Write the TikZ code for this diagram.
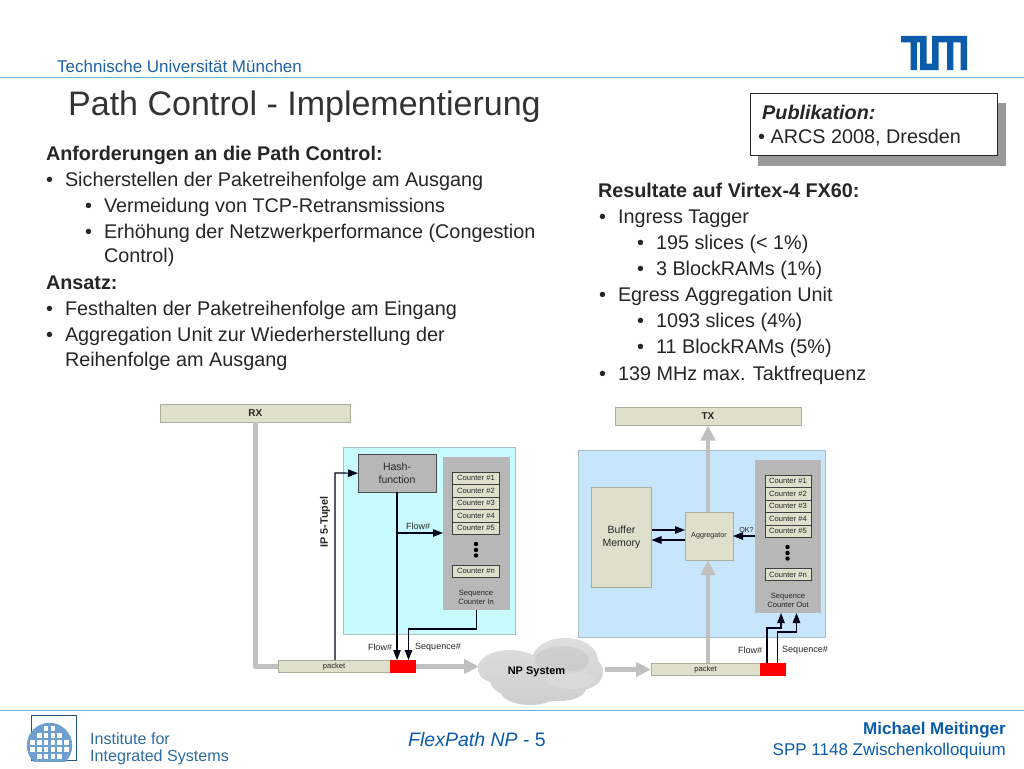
\documentclass[tikz,border=0pt]{standalone}
\usepackage{fontspec}
\setmainfont{Liberation Sans}
\usetikzlibrary{arrows.meta}
\definecolor{tumblue}{HTML}{0B5CAB}
\definecolor{headblue}{HTML}{1F62A8}
\definecolor{rulecol}{HTML}{74B0DE}
\definecolor{txt}{HTML}{262626}
\definecolor{beige}{HTML}{DEE0CC}
\definecolor{beigeline}{HTML}{A9AD9B}
\definecolor{boxgray}{HTML}{B7B7B7}
\definecolor{flowcol}{HTML}{C0C0C0}
\definecolor{cyanbox}{HTML}{C8FBFD}
\definecolor{bluebox}{HTML}{C8E6FB}
\definecolor{boxedge}{HTML}{A8C0C8}
\definecolor{wafer}{HTML}{6F9FCE}
\definecolor{instblue}{HTML}{2F6CA3}
\newcommand{\fs}[1]{\fontsize{#1}{#1}\selectfont}
\tikzset{
  x=1pt,y=-1pt,
  lbl/.style={inner sep=0pt,outer sep=0pt,text=txt},
  bodytext/.style={inner sep=0pt,outer sep=0pt,anchor=base west,text=txt,font=\fs{19.8}},
  headtext/.style={bodytext,font=\fs{19.8}\bfseries},
  beigebox/.style={fill=beige,draw=beigeline,line width=.6pt,inner sep=0pt,outer sep=0pt,anchor=center,text=txt,align=center},
  counter/.style={beigebox,draw=black!75,minimum width=47pt,minimum height=12.5pt,font=\fs{7.6}},
  graybox/.style={fill=boxgray,inner sep=0pt,outer sep=0pt,anchor=center,text=txt,align=center},
  flow/.style={draw=flowcol,line width=4.6pt,-{Triangle[length=15pt,width=14pt,fill=flowcol]}},
  flowline/.style={draw=flowcol,line width=4.6pt,line join=round},
  sig/.style={draw=black!90!blue,line width=1.2pt,-{Triangle[length=10pt,width=7.5pt]}},
  dotmark/.style={circle,fill=black,inner sep=0pt,minimum size=4.4pt},
}
\begin{document}
\begin{tikzpicture}
\useasboundingbox[fill=white] (0,0) rectangle (1024,768);
% header
\node[anchor=base west,inner sep=0,text=headblue,font=\fs{17}] (uni) at (57,72) {Technische Universität München};
\coordinate (ruleAl) at (0,77.5); \coordinate (ruleAr) at (1024,77.5);
\draw[rulecol,line width=1pt] (ruleAl) -- (ruleAr);
\node[anchor=base west,inner sep=0,text=black!80,font=\fs{34}] (title) at (68,115) {Path Control - Implementierung};
% TUM logo
\fill[tumblue] (901,36) rectangle (926.5,42.5) (910.5,36) rectangle (916.8,70)
  (920.2,36) rectangle (926.5,70) (920.2,63.7) rectangle (938.5,70) (932.2,36) rectangle (938.5,70)
  (932.2,36) rectangle (967,42.5) (947,36) rectangle (953.3,70) (960.7,36) rectangle (967,70);
% Publikation
\fill[black!40] (758,103) rectangle (1006,166);
\draw[fill=white,draw=black!85,line width=1pt] (750,93) rectangle (997,155.5);
\node[anchor=base west,inner sep=0,text=txt,font=\fs{19.8}\bfseries\itshape] (pub) at (762,119) {Publikation:};
\node[anchor=base west,inner sep=0,text=txt,font=\fs{19.8}] (arcs) at (758,143) {• ARCS 2008, Dresden};
% left text
\node[headtext] (l1) at (46,160.5) {Anforderungen an die Path Control:};
\node[bodytext] (b2) at (46,186.5) {•}; \node[bodytext] (l2) at (65,186.5) {Sicherstellen der Paketreihenfolge am Ausgang};
\node[bodytext] (b3) at (85,212.5) {•}; \node[bodytext] (l3) at (104,212.5) {Vermeidung von TCP-Retransmissions};
\node[bodytext] (b4) at (85,238.5) {•}; \node[bodytext] (l4) at (104,238.5) {Erhöhung der Netzwerkperformance (Congestion};
\node[bodytext] (l4b) at (104,262.5) {Control)};
\node[headtext] (l5) at (46,289.5) {Ansatz:};
\node[bodytext] (b6) at (46,315.5) {•}; \node[bodytext] (l6) at (65,315.5) {Festhalten der Paketreihenfolge am Eingang};
\node[bodytext] (b7) at (46,341.5) {•}; \node[bodytext] (l7) at (65,341.5) {Aggregation Unit zur Wiederherstellung der};
\node[bodytext] (l7b) at (65,366.5) {Reihenfolge am Ausgang};
% right text
\node[headtext] (r1) at (598,197) {Resultate auf Virtex-4 FX60:};
\node[bodytext] (rb2) at (599,223) {•}; \node[bodytext] (r2) at (618,223) {Ingress Tagger};
\node[bodytext] (rb3) at (637,249) {•}; \node[bodytext] (r3) at (656,249) {195 slices (< 1\%)};
\node[bodytext] (rb4) at (637,275) {•}; \node[bodytext] (r4) at (656,275) {3 BlockRAMs (1\%)};
\node[bodytext] (rb5) at (599,301) {•}; \node[bodytext] (r5) at (618,301) {Egress Aggregation Unit};
\node[bodytext] (rb6) at (637,327) {•}; \node[bodytext] (r6) at (656,327) {1093 slices (4\%)};
\node[bodytext] (rb7) at (637,353) {•}; \node[bodytext] (r7) at (656,353) {11 BlockRAMs (5\%)};
\node[bodytext] (rb8) at (599,380) {•}; \node[bodytext] (r8) at (618,380) {139 MHz max. Taktfrequenz};
% ---- background panels
\node[fill=cyanbox,draw=boxedge,line width=.6pt,inner sep=0,outer sep=0,minimum width=171.5pt,minimum height=187pt] (inpanel) at (429.25,540.5) {};
\node[fill=bluebox,draw=boxedge,line width=.6pt,inner sep=0,outer sep=0,minimum width=247pt,minimum height=187pt] (outpanel) at (701.5,543.5) {};
% ---- left diagram
\node[beigebox,minimum width=190.5pt,minimum height=18pt,font=\fs{10}\bfseries] (rx) at (255.25,413) {RX};
\node[beigebox,minimum width=112pt,minimum height=12.5pt,font=\fs{7.6}] (pktin) at (334,666.5) {packet};
\node[fill=red,inner sep=0,outer sep=0,minimum width=26pt,minimum height=12.5pt] (redin) at (403,666.5) {};
\node[graybox,draw=black!70,line width=.8pt,minimum width=78pt,minimum height=37.5pt,font=\fs{10.5}] (hash) at (397,473.2) {Hash-\\[2pt]function};
\node[graybox,minimum width=67pt,minimum height=153pt] (seqin) at (476.5,533.5) {};
\node[counter] (ci1) at (476,478.2) {Counter \#1};
\node[counter] (ci2) at (476,490.7) {Counter \#2};
\node[counter] (ci3) at (476,503.2) {Counter \#3};
\node[counter] (ci4) at (476,515.7) {Counter \#4};
\node[counter] (ci5) at (476,528.2) {Counter \#5};
\node[counter] (cin) at (476,571.3) {Counter \#n};
\node[dotmark] (di1) at (476,544) {}; \node[dotmark] (di2) at (476,550) {}; \node[dotmark] (di3) at (476,555.5) {};
\node[lbl,align=center,font=\fs{7.6}] (seqinl) at (476,597.5) {Sequence\\[1.5pt]Counter In};
\coordinate (rxturn) at (rx.south |- pktin.west);
\draw[flowline] (rx.south) -- (rxturn) -- (pktin.west);
\coordinate (tupA) at (335,660); \coordinate (tupB) at (335,473);
\draw[sig] (tupA) -- (tupB) -- (hash.west);
\node[lbl,rotate=90,font=\fs{10.8}\bfseries] (tupel) at (325,522) {IP 5-Tupel};
\coordinate (hflow) at (397,533);
\coordinate (fa) at (397,660); \coordinate (sa) at (408.5,660);
\draw[sig] (hash.south) -- (fa);
\draw[sig] (hflow) -- (seqin.west |- hflow);
\node[lbl,font=\fs{9}] (fl1) at (418,526) {Flow\#};
\coordinate (sturnY) at (476,629);
\coordinate (sturn) at (seqin.south |- sturnY);
\draw[sig] (seqin.south) -- (sturn) -| (sa);
\node[lbl,font=\fs{9}] (fl2) at (380,647) {Flow\#};
\node[lbl,font=\fs{9}] (sq1) at (438,647) {Sequence\#};
% ---- right diagram
\node[beigebox,minimum width=186pt,minimum height=18pt,font=\fs{10}\bfseries] (tx) at (708,416.5) {TX};
\node[beigebox,minimum width=60pt,minimum height=100pt] (buf) at (621.5,537.5) {};
\node[lbl,align=center,font=\fs{10.5}] (bufl) at (621.5,537.5) {Buffer\\[2pt]Memory};
\node[beigebox,minimum width=48pt,minimum height=48pt,font=\fs{7.2}] (agg) at (709,536) {Aggregator};
\node[graybox,minimum width=66pt,minimum height=153pt] (seqout) at (788,536.5) {};
\node[counter,minimum width=46pt] (co1) at (788,481.2) {Counter \#1};
\node[counter,minimum width=46pt] (co2) at (788,493.7) {Counter \#2};
\node[counter,minimum width=46pt] (co3) at (788,506.2) {Counter \#3};
\node[counter,minimum width=46pt] (co4) at (788,518.7) {Counter \#4};
\node[counter,minimum width=46pt] (co5) at (788,531.2) {Counter \#5};
\node[counter,minimum width=46pt] (con) at (788,574.5) {Counter \#n};
\node[dotmark] (do1) at (787.5,547) {}; \node[dotmark] (do2) at (787.5,553) {}; \node[dotmark] (do3) at (787.5,558.5) {};
\node[lbl,align=center,font=\fs{7.6}] (seqoutl) at (788,600.5) {Sequence\\[1.5pt]Counter Out};
\node[beigebox,minimum width=109pt,minimum height=12.5pt,font=\fs{7.6}] (pktout) at (705.5,669.5) {packet};
\node[fill=red,inner sep=0,outer sep=0,minimum width=25.5pt,minimum height=12.5pt] (redout) at (772.8,669.5) {};
\coordinate (aggbot) at (708,560); \coordinate (aggtop) at (708,512);
\coordinate (pkttop) at (708,663.2);
\draw[flow] (aggtop) -- (tx.south -| aggtop);
\draw[flow] (pkttop) -- (aggbot);
\coordinate (bufoutA) at (651.5,530); \coordinate (bufoutB) at (685,530);
\coordinate (bufinA) at (685,540); \coordinate (bufinB) at (651.5,540);
\draw[sig] (bufoutA) -- (bufoutB);
\draw[sig] (bufinA) -- (bufinB);
\draw[sig] (seqout.west |- agg.east) -- (agg.east);
\node[lbl,font=\fs{7.2}] (ok) at (746.5,530) {OK?};
\coordinate (ofA) at (767,663.2); \coordinate (ofB) at (781,613);
\coordinate (osA) at (777.3,663.2); \coordinate (osB) at (796.5,613);
\draw[sig] (ofA) |- (781,628) -- (ofB);
\draw[sig] (osA) |- (796.5,632) -- (osB);
\node[lbl,font=\fs{9}] (fl3) at (750,650) {Flow\#};
\node[lbl,font=\fs{9}] (sq2) at (805,650) {Sequence\#};
% ---- cloud
\path[top color=black!13,bottom color=black!19,shading angle=0]
  (510,668) ellipse [x radius=32,y radius=18]
  (540,680) ellipse [x radius=50,y radius=22]
  (530,690) ellipse [x radius=30,y radius=15]
  (565,660) ellipse [x radius=33,y radius=22]
  (580,672) ellipse [x radius=23,y radius=18]
  (560,688) ellipse [x radius=26,y radius=13]
  (496,672) ellipse [x radius=17,y radius=10];
\fill[black!30,opacity=.28] (562,660) ellipse [x radius=27,y radius=14];
\fill[black!10,opacity=.35] (570,680) ellipse [x radius=24,y radius=9];
\node[lbl,text=black,font=\fs{11}\bfseries] (np) at (536.5,672) {NP System};
\coordinate (cloudin) at (479,667); \coordinate (cloudoutA) at (605,670);
\draw[flow] (redin.east) -- (cloudin |- redin.east);
\draw[flow] (cloudoutA |- pktout.west) -- (pktout.west);
% footer
\coordinate (ruleBl) at (0,710); \coordinate (ruleBr) at (1024,710);
\draw[rulecol,line width=1pt] (ruleBl) -- (ruleBr);
\draw[draw=instblue!80!black,line width=.8pt] (31.5,715.5) rectangle (76.5,760.5);
\begin{scope}
\clip (0,712) rectangle (100,761);
\fill[wafer] (49.5,745.5) circle [radius=22.7];
\foreach \k in {-0.5,0.5} \fill[white] ({49.5+\k*6.7-2.3},726) rectangle +(4.6,4.6);
\foreach \k in {-1.5,-0.5,0.5,1.5} \fill[white] ({49.5+\k*6.7-2.3},733) rectangle +(4.6,4.6);
\foreach \k in {-2.5,-1.5,-0.5,0.5,1.5,2.5} \fill[white] ({49.5+\k*6.7-2.3},740) rectangle +(4.6,4.6);
\foreach \k in {-2.5,-1.5,-0.5,0.5,1.5,2.5} \fill[white] ({49.5+\k*6.7-2.3},747) rectangle +(4.6,4.6);
\foreach \k in {-1.5,-0.5,0.5,1.5} \fill[white] ({49.5+\k*6.7-2.3},754) rectangle +(4.6,4.6);
\end{scope}
\node[anchor=base west,inner sep=0,text=instblue,font=\fs{16.1}] (inst1) at (90,744) {Institute for};
\node[anchor=base west,inner sep=0,text=instblue,font=\fs{16.1}] (inst2) at (90,761) {Integrated Systems};
\node[anchor=base,inner sep=0,text=tumblue,font=\fs{19.5}] (flex) at (477,746) {\textit{FlexPath NP} - 5};
\node[anchor=base east,inner sep=0,text=tumblue,font=\fs{17}\bfseries] (mm) at (1006,734) {Michael Meitinger};
\node[anchor=base east,inner sep=0,text=tumblue,font=\fs{17}] (spp) at (1006,755) {SPP 1148 Zwischenkolloquium};
\end{tikzpicture}
\end{document}
